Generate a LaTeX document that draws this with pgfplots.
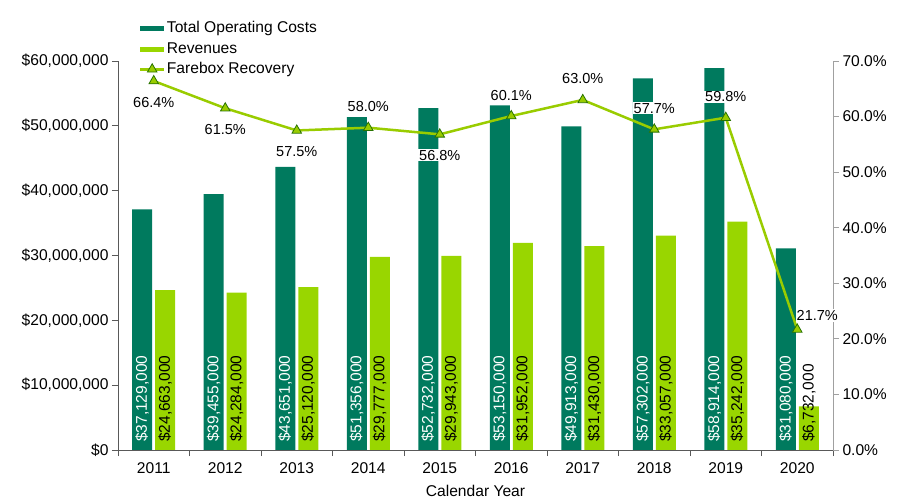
\documentclass[border=0pt]{standalone}
\usepackage{pgfplots}
\pgfplotsset{compat=1.18}
\usepackage{fontspec}
\setmainfont{Liberation Sans}
\definecolor{dkgreen}{RGB}{0,122,94}
\definecolor{ltgreen}{RGB}{153,214,0}
\definecolor{lngreen}{RGB}{153,204,0}
\definecolor{mkedge}{RGB}{40,115,0}
\definecolor{axgray}{RGB}{89,89,89}
\definecolor{axgray2}{RGB}{160,160,160}
\pgfplotsset{
 barlegend/.style={legend image code/.code={\fill[##1] (0bp,-2.5bp) rectangle (24bp,2.5bp);}},
 linelegend/.style={legend image code/.code={\draw[mark repeat=2,mark phase=2,##1] plot coordinates {(0bp,0bp) (12bp,0bp) (24bp,0bp)};}},
}
\newcommand\mainfs{\fontsize{15.6bp}{18bp}\selectfont}
\newcommand\barfs{\fontsize{15.5bp}{18bp}\selectfont}
\newcommand\pctfs{\fontsize{14.5bp}{16bp}\selectfont}
\begin{document}
\begin{tikzpicture}[font=\mainfs]
\useasboundingbox (-118bp,-51bp) rectangle (789bp,450bp);
\begin{axis}[
 at={(0,0)}, anchor=south west,
 scale only axis, width=715bp, height=389bp,
 xmin=-0.5, xmax=9.5, ymin=0, ymax=60000000,
 axis x line*=bottom, axis y line*=left,
 axis line style={draw=axgray, line width=0.8bp, -},
 xtick={-0.5,0.5,1.5,2.5,3.5,4.5,5.5,6.5,7.5,8.5,9.5},
 xticklabels={2011,2012,2013,2014,2015,2016,2017,2018,2019,2020},
 x tick label as interval,
 x tick label style={yshift=-3bp},
 ytick={0,10000000,20000000,30000000,40000000,50000000,60000000},
 yticklabels={{\$0},{\$10,000,000},{\$20,000,000},{\$30,000,000},{\$40,000,000},{\$50,000,000},{\$60,000,000}},
 scaled y ticks=false,
 tick align=outside, major tick length=6bp,
 tick style={draw=axgray, line width=0.8bp},
 xlabel={Calendar Year},
 xlabel style={yshift=-5bp},
 tick label style={font=\mainfs},
 label style={font=\mainfs},
]
\addplot[ybar, bar width=20bp, bar shift=-11.5bp, fill=dkgreen, draw=none] coordinates {
 (0,37129000) (1,39455000) (2,43651000) (3,51356000) (4,52732000)
 (5,53150000) (6,49913000) (7,57302000) (8,58914000) (9,31080000)};
\addplot[ybar, bar width=20bp, bar shift=11.5bp, fill=ltgreen, draw=none] coordinates {
 (0,24663000) (1,24284000) (2,25120000) (3,29777000) (4,29943000)
 (5,31952000) (6,31430000) (7,33057000) (8,35242000) (9,6732000)};
% bar value labels, set at each bar's base
\addplot[draw=none, nodes near coords, point meta=explicit symbolic,
 every node near coord/.append style={xshift=-11.5bp, rotate=90, anchor=west, inner xsep=8bp, inner ysep=0bp, text=white, font=\barfs}]
 coordinates {
 (0,0) [\$37,129,000] (1,0) [\$39,455,000] (2,0) [\$43,651,000] (3,0) [\$51,356,000] (4,0) [\$52,732,000]
 (5,0) [\$53,150,000] (6,0) [\$49,913,000] (7,0) [\$57,302,000] (8,0) [\$58,914,000] (9,0) [\$31,080,000]};
\addplot[draw=none, nodes near coords, point meta=explicit symbolic,
 every node near coord/.append style={xshift=11.5bp, rotate=90, anchor=west, inner xsep=8bp, inner ysep=0bp, text=black, font=\barfs}]
 coordinates {
 (0,0) [\$24,663,000] (1,0) [\$24,284,000] (2,0) [\$25,120,000] (3,0) [\$29,777,000] (4,0) [\$29,943,000]
 (5,0) [\$31,952,000] (6,0) [\$31,430,000] (7,0) [\$33,057,000] (8,0) [\$35,242,000] (9,0) [\$6,732,000]};
\end{axis}
\begin{axis}[
 at={(0,0)}, anchor=south west,
 scale only axis, width=715bp, height=389bp,
 xmin=-0.5, xmax=9.5, ymin=0, ymax=70,
 axis x line=none, axis y line*=right,
 axis line style={draw=axgray2, line width=0.8bp, -},
 ytick={0,10,20,30,40,50,60,70},
 yticklabels={0.0\%,10.0\%,20.0\%,30.0\%,40.0\%,50.0\%,60.0\%,70.0\%},
 tick align=outside, major tick length=6bp,
 tick style={draw=axgray2, line width=0.8bp},
 tick label style={font=\mainfs},
 legend style={at={(0.029,1.105)}, anchor=north west, draw=none, fill=none, inner sep=0pt,
   row sep=3.2bp, font=\mainfs,
   nodes={inner sep=1.5bp, text height=11bp, text depth=3bp}},
 legend cell align=left,
]
\addlegendimage{barlegend, fill=dkgreen, draw=none}
\addlegendentry{Total Operating Costs}
\addlegendimage{barlegend, fill=ltgreen, draw=none}
\addlegendentry{Revenues}
\addplot[linelegend, color=lngreen, line width=2.5bp, mark=triangle*, mark size=5.5bp,
 mark options={fill=lngreen, draw=mkedge, line width=0.8bp}] coordinates {
 (0,66.4) (1,61.5) (2,57.5) (3,58.0) (4,56.8) (5,60.1) (6,63.0) (7,57.7) (8,59.8) (9,21.7)};
\addlegendentry{Farebox Recovery}
\addplot[forget plot, draw=none, nodes near coords, point meta=explicit symbolic,
 every node near coord/.append style={anchor=center, yshift=-21bp, fill=white, inner sep=1bp, text=black, font=\pctfs}]
 coordinates {(0,66.4) [66.4\%] (1,61.5) [61.5\%] (2,57.5) [57.5\%] (4,56.8) [56.8\%]};
\addplot[forget plot, draw=none, nodes near coords, point meta=explicit symbolic,
 every node near coord/.append style={anchor=center, yshift=21bp, fill=white, inner sep=1bp, text=black, font=\pctfs}]
 coordinates {(3,58.0) [58.0\%] (5,60.1) [60.1\%] (6,63.0) [63.0\%] (7,57.7) [57.7\%] (8,59.8) [59.8\%]};
\addplot[forget plot, draw=none, nodes near coords, point meta=explicit symbolic,
 every node near coord/.append style={anchor=center, xshift=20bp, yshift=14bp, fill=white, inner sep=1bp, text=black, font=\pctfs}]
 coordinates {(9,21.7) [21.7\%]};
\end{axis}
\end{tikzpicture}
\end{document}
